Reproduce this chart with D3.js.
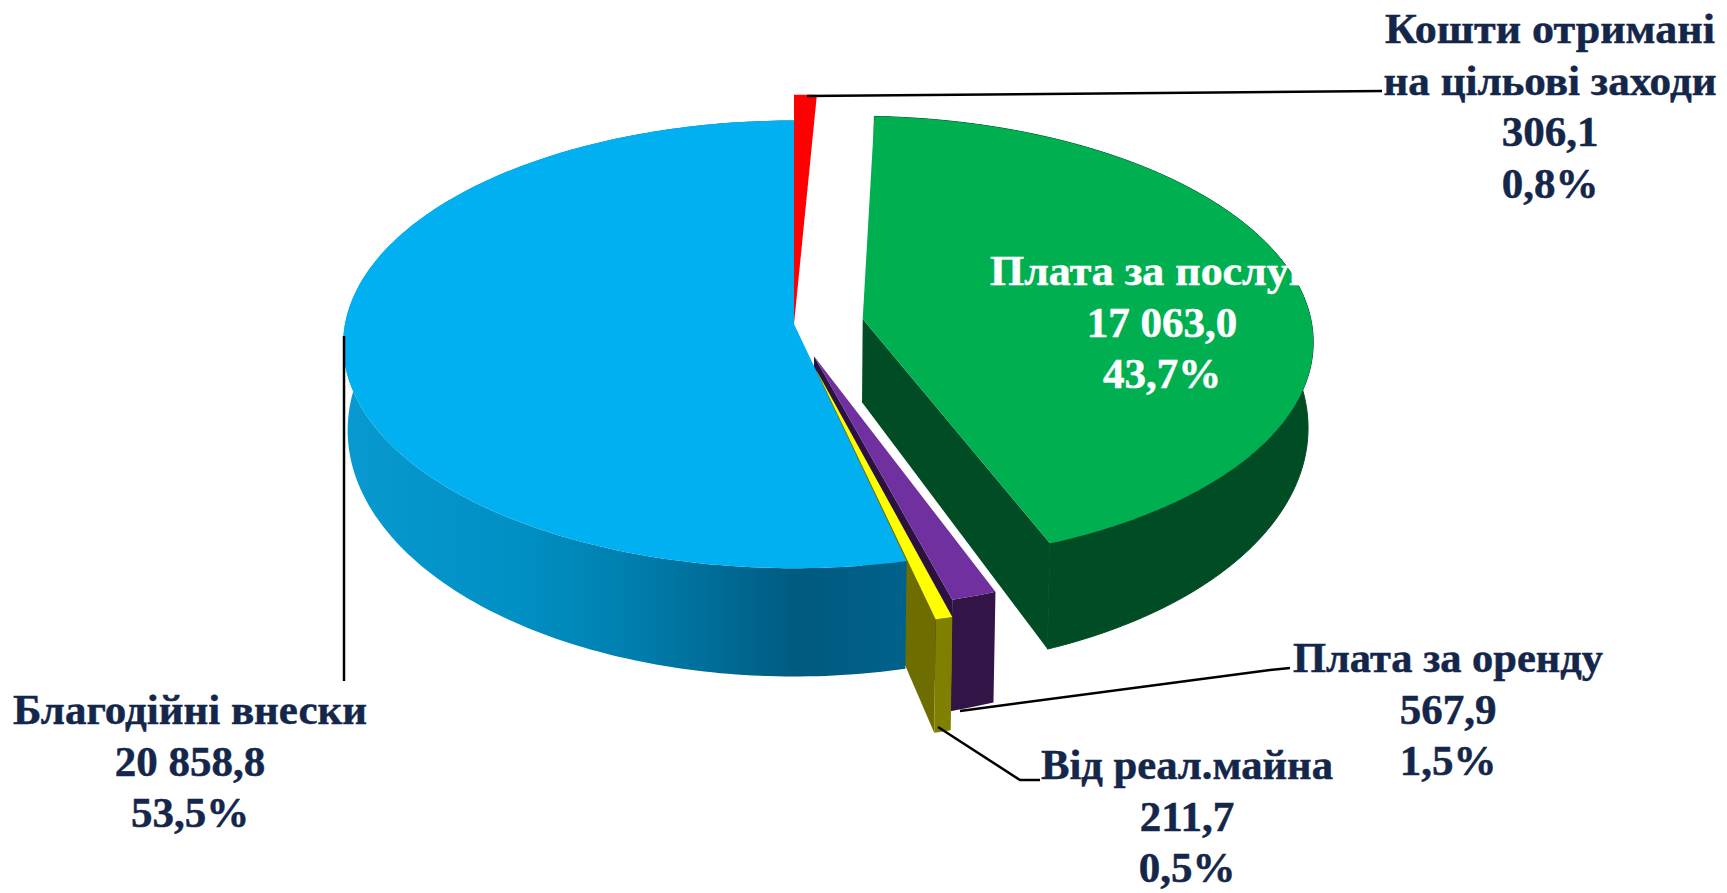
<!DOCTYPE html>
<html><head><meta charset="utf-8">
<script src="https://cdn.jsdelivr.net/npm/d3@7"></script>
<style>
html,body{margin:0;padding:0;background:#fff;overflow:hidden}
text{font-family:"Liberation Serif","Times New Roman",serif;font-weight:bold;font-size:43px;text-anchor:middle;stroke-width:.5px}
</style></head><body>
<svg id="c" width="1727" height="893"></svg>
<script>
const categories=["Кошти отримані на цільові заходи","Плата за послуги","Плата за оренду","Від реал.майна","Благодійні внески"];
const values=[306.1,17063.0,567.9,211.7,20858.8];
const valueLabels=["306,1","17 063,0","567,9","211,7","20 858,8"];
const percentLabels=["0,8%","43,7%","1,5%","0,5%","53,5%"];
const topColors=["#ff0000","#00b050","#7030a0","#ffff00","#00b0f0"];
const wallColors=["#a00000","#004d25","#321546","#808000","url(#blueWall)"];
const sideColors=["#a00000","#004d25","#2c1240","#6e6e00","#00618a"];
const explode=[0,0.155,0.15,0.21,0];
const radiusFactor=[1.14,1,1.01,1.01,1];
const startShiftDeg=[0,-0.4,-1.2,-0.8,-0.7];
const endShiftDeg=[0,-2,-1.2,-0.8,0];
const titleLines=[["Кошти отримані","на цільові заходи"],["Плата за послуги"],["Плата за оренду"],["Від реал.майна"],["Благодійні внески"]];
const titleWidths=[[330,333],[344],[310],[292],[354]];
const labelX=[1550,1162,1448,1187,190];
const labelY=[43,285,672,779,724];
const labelFill=["#14264a","#ffffff","#14264a","#14264a","#14264a"];
const lineStep=51.5;
const leaders=[[[807,96],[1382,91]],null,[[960,711],[1270,670],[1290,668]],[[938,727],[1020,780],[1040,780]],[[344,336],[344,681]]];

const cx=794,cy=324,rx=449,ry=222,persp=0.0909;
const floorShrink=0.99,floorScaleY=1.1,faceMidY=345,floorMidY=431;
function project(u,v,down){
  const w=1-persp*v;
  let X=cx+rx*u/w, Y=cy+ry*v/w;
  if(down){X=cx+(X-cx)*floorShrink;Y=floorMidY+(Y-faceMidY)*floorScaleY;}
  return [X,Y];
}
const svg=d3.select("#c");
const defs=svg.append("defs");
const grad=defs.append("linearGradient").attr("id","blueWall").attr("gradientUnits","userSpaceOnUse")
  .attr("x1",344).attr("x2",905).attr("y1",0).attr("y2",0);
[[0,"#0899d0"],[.3,"#0090c4"],[.5,"#0080b0"],[.81,"#005a80"],[1,"#00618a"]]
  .forEach(s=>grad.append("stop").attr("offset",s[0]).attr("stop-color",s[1]));

const deg=Math.PI/180;
const arcs=d3.pie().sort(null).startAngle(0).endAngle(2*Math.PI)(values);
const line=d3.line();
const slices=arcs.map((a,i)=>{
  const mid=(a.startAngle+a.endAngle)/2, e=explode[i], r=radiusFactor[i];
  const ox=e*Math.sin(mid), oy=-e*Math.cos(mid);
  const a0=a.startAngle+startShiftDeg[i]*deg, a1=a.endAngle+endShiftDeg[i]*deg;
  const n=Math.max(4,Math.ceil((a1-a0)*60));
  const ang=d3.range(n+1).map(k=>a0+(a1-a0)*k/n);
  const uv=ang.map(t=>[ox+r*Math.sin(t),oy-r*Math.cos(t)]);
  return {i,ox,oy,uv};
});
const g=svg.append("g");
function drawFace(s){
  g.append("path").attr("d",line([project(s.ox,s.oy,false),...s.uv.map(p=>project(p[0],p[1],false))])+"Z").attr("fill",topColors[s.i]);
}
function drawOuter(s){
  const top=s.uv.map(p=>project(p[0],p[1],false));
  const bot=s.uv.map(p=>project(p[0],p[1],true)).reverse();
  g.append("path").attr("d",line([...top,...bot])+"Z").attr("fill",wallColors[s.i]).attr("stroke",s.i===1?wallColors[1]:"none").attr("stroke-width",1);
}
function drawEndSide(s){
  const e=s.uv[s.uv.length-1];
  g.append("path").attr("d",line([project(s.ox,s.oy,false),project(e[0],e[1],false),project(e[0],e[1],true),project(s.ox,s.oy,true)])+"Z").attr("fill",sideColors[s.i]);
}
const [red,green,purple,yellow,blue]=slices;
drawFace(red);
drawOuter(green);drawEndSide(green);drawFace(green);
drawEndSide(purple);drawEndSide(yellow);
drawOuter(blue);drawFace(blue);
drawOuter(purple);drawFace(purple);
drawOuter(yellow);drawFace(yellow);

leaders.forEach(l=>{ if(l) svg.append("path").attr("d",line(l)).attr("fill","none").attr("stroke","#000").attr("stroke-width",2.5); });

titleLines.forEach((ls,i)=>{
  const lines=[...ls,valueLabels[i],percentLabels[i]];
  lines.forEach((s,k)=>{
    const t=svg.append("text").attr("x",labelX[i]).attr("y",labelY[i]+k*lineStep).attr("fill",labelFill[i]).attr("stroke",labelFill[i]).text(s);
    if(k<ls.length) t.attr("textLength",titleWidths[i][k]).attr("lengthAdjust","spacingAndGlyphs");
  });
});
</script></body></html>
